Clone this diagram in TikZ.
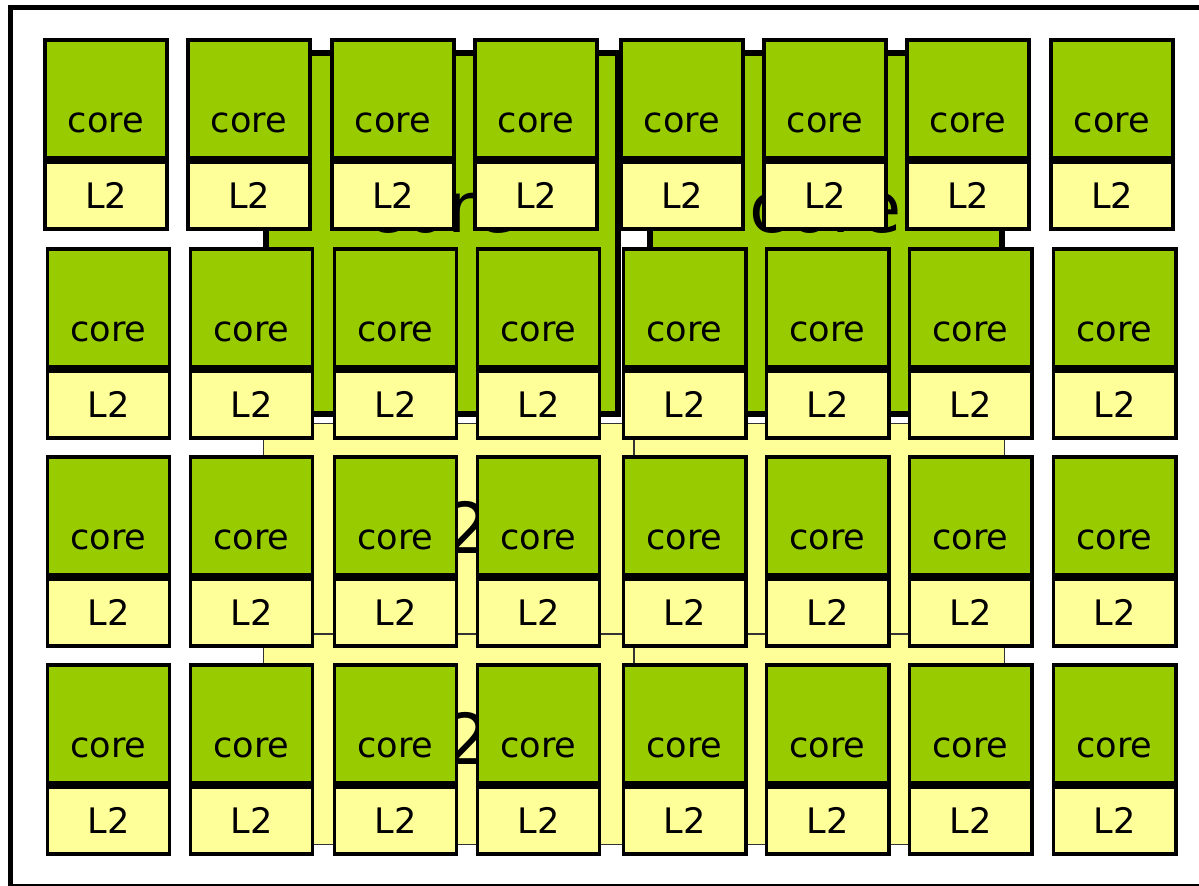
\documentclass[tikz,border=0pt]{standalone}
\usepackage{fontspec}
\setmainfont{DejaVu Sans}
\usetikzlibrary{positioning}
\definecolor{coregreen}{HTML}{99CC00}
\definecolor{cacheyellow}{HTML}{FFFF99}

\begin{document}
\begin{tikzpicture}[x=0.02cm, y=-0.02cm,
    corebox/.style={rectangle, draw, line width=2pt, fill=coregreen, minimum width=2.45cm, minimum height=2.37cm, inner sep=0pt, text height=1.86cm, text depth=0.51cm, font=\fontsize{20}{24}\selectfont},
    cachebox/.style={rectangle, draw, line width=2pt, fill=cacheyellow, minimum width=2.45cm, minimum height=1.35cm, inner sep=0pt, font=\fontsize{20}{24}\selectfont},
    bigcore/.style={rectangle, draw, line width=3.4pt, fill=coregreen, minimum width=7.04cm, minimum height=7.22cm, inner sep=0pt, text height=3.6cm, text depth=3.62cm, font=\fontsize{40}{48}\selectfont},
    bigcache/.style={rectangle, draw=black!80, line width=0.6pt, fill=cacheyellow, minimum width=7.4cm, minimum height=4.2cm, inner sep=0pt, text height=2.6cm, text depth=1.6cm, font=\fontsize{40}{48}\selectfont}]
    \useasboundingbox (0,0) rectangle (1199,885);
    \fill[white] (0,0) rectangle (1199,885);
    \draw[line width=2.8pt] (10.5,7.5) rectangle (1204,886);

    % the old picture: two big cores with their caches
    \node[bigcore, anchor=north west] (bigcore-a) at (263,50) {core};
    \node[bigcore, anchor=north west] (bigcore-b) at (647,50) {core};
    \node[bigcache, anchor=north west] (bigl2-a) at (263,423) {L2};
    \node[bigcache, right=0pt of bigl2-a] (bigl2-b) {L2};
    \node[bigcache, below=0pt of bigl2-a] (bigl2-c) {L2};
    \node[bigcache, below=0pt of bigl2-b] (bigl2-d) {L2};

    % the many-core grid on top
    \foreach \r/\top/\dx in {1/38/0, 2/247/2.5, 3/455/2.5, 4/663/2.5} {
        \foreach \c/\left in {1/43, 2/186, 3/330, 4/473, 5/619, 6/762, 7/905, 8/1049} {
            \node[corebox, anchor=north west] (core-\r-\c) at (\left+\dx,\top) {core};
            \node[cachebox, below=0pt of core-\r-\c] (l2-\r-\c) {L2};
        }
    }
\end{tikzpicture}
\end{document}
